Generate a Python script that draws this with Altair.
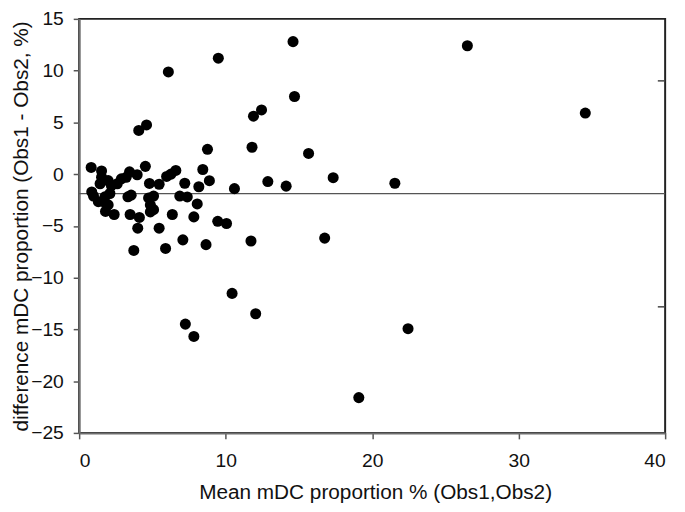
import altair as alt
import pandas as pd

# Mean of the two observers (x) and their difference (y)
mean_vals = [
    0.82, 1.53, 1.53, 1.43, 1.98, 2.2, 2.6, 2.88, 3.21, 3.44, 3.96, 4.52,
    0.86, 0.98, 1.31, 1.65, 1.76, 2.1, 1.98, 1.8, 2.39, 3.33, 3.55, 3.48,
    4.11, 4.0, 3.73, 4.8, 5.46, 4.74, 5.08, 4.86, 5.08, 4.86, 5.46, 5.9,
    5.97, 6.27, 6.6, 6.36, 4.07, 4.6, 6.09,
    6.87, 7.38, 7.21, 8.44, 8.89, 8.17, 8.06, 7.83, 7.08, 8.66, 9.46, 10.06,
    10.6, 8.76, 11.8, 15.66, 12.88, 14.13, 17.34, 21.55, 11.73, 16.76,
    10.44, 12.05, 7.25, 7.83, 22.45, 19.09, 14.6, 26.5, 9.5, 14.7, 12.45,
    11.9, 34.55,
]
diff_vals = [
    0.65, 0.3, -0.3, -0.93, -0.62, -1.1, -0.93, -0.46, -0.31, 0.22, -0.06, 0.75,
    -1.72, -2.12, -2.66, -2.66, -2.19, -1.87, -2.97, -3.6, -3.9, -2.19, -2.03, -3.9,
    -4.18, -5.22, -7.37, -0.9, -0.98, -2.3, -2.12, -2.97, -3.43, -3.65, -5.22, -7.18,
    -0.22, 0.0, 0.36, -3.9, 4.22, 4.75, 9.87,
    -2.12, -2.2, -0.88, 0.45, -0.63, -1.22, -2.88, -4.13, -6.35, -6.81, -4.56, -4.77,
    -1.4, 2.4, 2.6, 2.0, -0.72, -1.16, -0.34, -0.88, -6.46, -6.18,
    -11.52, -13.49, -14.49, -15.68, -14.93, -21.59, 12.8, 12.4, 11.2, 7.5, 6.2,
    5.6, 5.9,
]

mean_diff = [-1.89]
limits = [9.01, -12.82]
limit_x_start = [39.5]
limit_x_end = [40.0]

x_ticks = [0, 10, 20, 30, 40]
y_ticks = [15, 10, 5, 0, -5, -10, -15, -20, -25]

pts = pd.DataFrame({"m": mean_vals, "d": diff_vals})
mean_df = pd.DataFrame({"d": mean_diff})
lim_df = pd.DataFrame({"d": limits, "x0": limit_x_start * len(limits), "x1": limit_x_end * len(limits)})

FONT = "Liberation Sans"
W, H = 593, 419

xs = alt.Scale(domain=[0, 40], nice=False, zero=False)
ys = alt.Scale(domain=[-25, 15], nice=False, zero=False)

x_axis = alt.Axis(
    title="Mean mDC proportion % (Obs1,Obs2)", values=x_ticks, grid=False,
    tickSize=6, labelPadding=13, domainColor="#6e6e6e",
    domainWidth=2, tickColor="#555", tickWidth=1.5, labelFontSize=19.5,
    titleFontSize=21, labelColor="#111", titleColor="#111", titleFontWeight="normal",
    labelFont=FONT, titleFont=FONT, titleX=W / 2 + 3, titleY=49, titleBaseline="top",
)
y_axis = alt.Axis(
    title="difference mDC proportion (Obs1 - Obs2, %)", values=y_ticks, grid=False,
    tickSize=6, labelPadding=10, domainColor="#6e6e6e",
    domainWidth=2, tickColor="#555", tickWidth=1.5, labelFontSize=19.5,
    titleFontSize=21, labelColor="#111", titleColor="#111", titleFontWeight="normal",
    labelFont=FONT, titleFont=FONT, titleX=-52, titleY=H / 2,
    titleBaseline="alphabetic", titleAngle=270,
)

points = alt.Chart(pts).mark_circle(size=125, color="black", opacity=1).encode(
    x=alt.X("m:Q", scale=xs, axis=x_axis),
    y=alt.Y("d:Q", scale=ys, axis=y_axis),
)

mean_line = alt.Chart(mean_df).mark_rule(color="#555", strokeWidth=1.2).encode(
    y=alt.Y("d:Q", scale=ys),
)

limit_ticks = alt.Chart(lim_df).mark_rule(color="#444", strokeWidth=1.5).encode(
    x=alt.X("x0:Q", scale=xs),
    x2="x1:Q",
    y=alt.Y("d:Q", scale=ys),
)

chart = alt.layer(mean_line, limit_ticks, points).properties(
    width=W, height=H,
    autosize=alt.AutoSizeParams(type="none"),
    padding={"left": 72, "top": 8, "right": 12, "bottom": 74},
    background="white",
).configure_view(stroke="#222", strokeWidth=2)

chart.save("out.html", embed_options={"renderer": "svg", "actions": False})
